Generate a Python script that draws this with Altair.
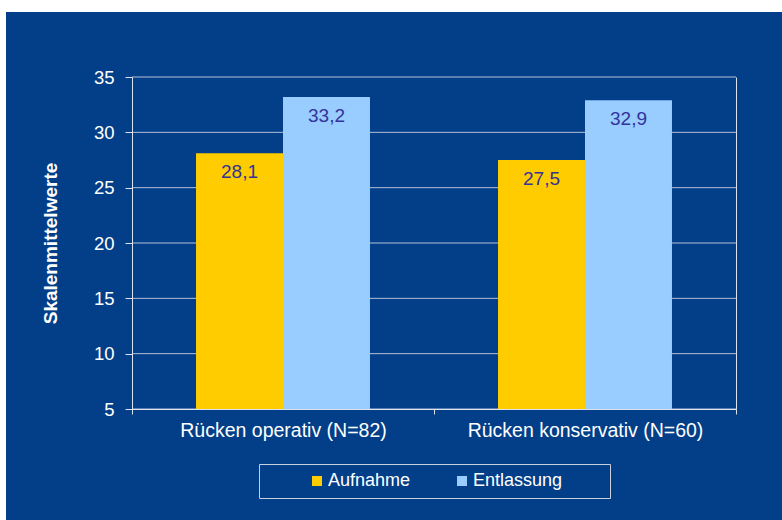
import altair as alt
import pandas as pd

groups = ["Rücken operativ (N=82)", "Rücken konservativ (N=60)"]
series = ["Aufnahme", "Entlassung"]
aufnahme = [28.1, 27.5]
entlassung = [33.2, 32.9]
y_ticks = [5, 10, 15, 20, 25, 30, 35]
colors = ["#FFCC00", "#99CCFF"]

BLUE = "#023F88"
GRID = "#B4C0D6"
AXIS = "#DDE3EE"
LABEL_COL = "#33339A"
FONT = "Liberation Sans"

W, H = 604, 332
PAD_L, PAD_T, PAD_R, PAD_B = 132, 77, 46, 111

rows = []
for g, a, e in zip(groups, aufnahme, entlassung):
    rows.append({"Gruppe": g, "Zeitpunkt": series[0], "Wert": a})
    rows.append({"Gruppe": g, "Zeitpunkt": series[1], "Wert": e})
df = pd.DataFrame(rows)
df["Label"] = df["Wert"].map(lambda v: f"{v:.1f}".replace(".", ","))

yscale = alt.Scale(domain=[5, 35], nice=False, zero=False)
xscale = alt.Scale(paddingInner=0, paddingOuter=0)
xoff_scale = alt.Scale(paddingInner=0, paddingOuter=0.736)

bg = alt.Chart(pd.DataFrame({"a": [0]})).mark_rect(color=BLUE).encode(
    x=alt.value(-(PAD_L - 6)), x2=alt.value(W + PAD_R),
    y=alt.value(-(PAD_T - 12)), y2=alt.value(H + PAD_B),
)

grid = alt.Chart(pd.DataFrame({"t": y_ticks})).mark_rule(color=GRID, strokeWidth=1).encode(
    y=alt.Y("t:Q", scale=yscale,
            axis=alt.Axis(orient="right", labels=False, ticks=False, grid=False,
                          title=None, domain=True, domainColor=AXIS, zindex=1)),
)

blank = "\u2800"
base = alt.Chart(df).encode(
    x=alt.X("Gruppe:N", sort=groups, scale=xscale,
            axis=alt.Axis(title=None, labelAngle=0, labelFontSize=19.5, labelColor="white",
                          labelPadding=7, labelLimit=0, tickBand="extent", tickSize=5,
                          tickColor=AXIS, domainColor=AXIS, grid=False, zindex=1)),
    xOffset=alt.XOffset("Zeitpunkt:N", sort=series, scale=xoff_scale),
)

bars = base.mark_bar().encode(
    y=alt.Y("Wert:Q", scale=yscale,
            axis=alt.Axis(values=y_ticks, grid=False, tickSize=7, tickColor=AXIS,
                          domainColor=AXIS, labelColor="white", labelFontSize=18.5,
                          labelPadding=11, title="Skalenmittelwerte", titleColor="white",
                          titleFontSize=19, titleFontWeight="bold", titleAngle=-90,
                          titleBaseline="middle", titleX=-82, titleY=H / 2, zindex=1)),
    y2=alt.datum(5),
    color=alt.Color("Zeitpunkt:N", sort=series,
                    scale=alt.Scale(domain=series, range=colors),
                    legend=alt.Legend(orient="none", legendX=127, legendY=387,
                                      direction="horizontal", title="mmmm",
                                      titleOrient="left", titleFontSize=11.5, titlePadding=0,
                                      titleOpacity=0,
                                      labelFontSize=18, labelColor="white",
                                      labelExpr="datum.label == 'Entlassung' ? 'Entlassung' + '" + blank * 3 + "' : datum.label",
                                      symbolType="square", symbolSize=100, symbolStrokeWidth=0,
                                      symbolOpacity=1, columnPadding=42, padding=8,
                                      strokeColor="#C8D0E0", labelOffset=2)),
)

labels = base.mark_text(color=LABEL_COL, fontSize=19, baseline="middle", dy=19).encode(
    y=alt.Y("Wert:Q", scale=yscale),
    text="Label:N",
)

chart = alt.layer(bg, grid, bars, labels).resolve_axis(y="independent").properties(
    width=W, height=H,
    autosize=alt.AutoSizeParams(type="none"),
    padding={"left": PAD_L, "top": PAD_T, "right": PAD_R, "bottom": PAD_B},
    background="white",
).configure(font=FONT).configure_view(stroke=None)

chart.save("out.html", embed_options={"renderer": "svg", "actions": False})
